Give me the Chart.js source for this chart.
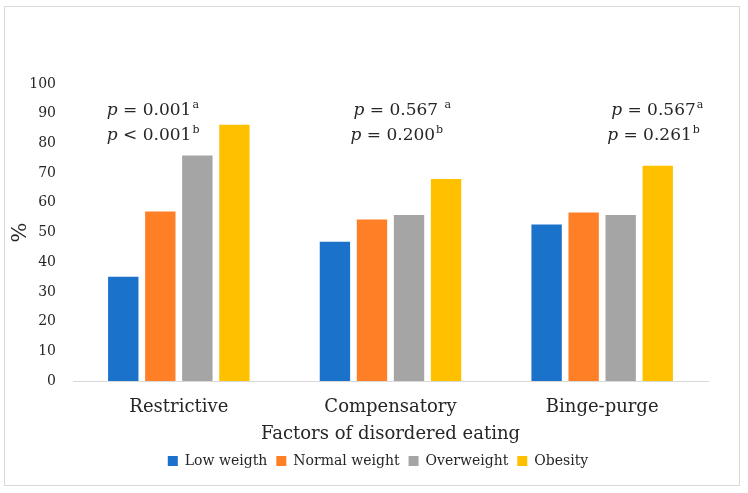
<!DOCTYPE html>
<html>
<head>
<meta charset="utf-8">
<script src="https://cdn.jsdelivr.net/npm/chart.js@4.4.1/dist/chart.umd.min.js"></script>
<style>
  html, body { margin: 0; padding: 0; background: #fff; }
  #wrap { width: 748px; height: 493px; position: relative; }
</style>
</head>
<body>
<div id="wrap"><canvas id="c" width="748" height="493"></canvas></div>
<script>
// ---- data ----
const categories = ['Restrictive', 'Compensatory', 'Binge-purge'];
const seriesNames = ['Low weigth', 'Normal weight', 'Overweight', 'Obesity'];
const lowWeight    = [35.1, 46.9, 52.7];
const normalWeight = [57.1, 54.4, 56.7];
const overweight   = [75.9, 55.9, 55.9];
const obesity      = [86.3, 68.0, 72.5];
const yTicks = [0, 10, 20, 30, 40, 50, 60, 70, 80, 90, 100];
// p-value annotations per category
const pOp1  = ['=', '=', '='];
const pVal1 = ['0.001', '0.567 ', '0.567'];
const pSup1 = ['a', 'a', 'a'];
const pOp2  = ['<', '=', '='];
const pVal2 = ['0.001', '0.200', '0.261'];
const pSup2 = ['b', 'b', 'b'];

const colors = ['#1a72cb', '#ff7f27', '#a5a5a5', '#ffc000'];
const FONT = "'DejaVu Serif', serif";
const TXT = '#262626';

const seriesData = [lowWeight, normalWeight, overweight, obesity];

const borderPlugin = {
  id: 'frame',
  beforeDraw(chart) {
    const ctx = chart.ctx;
    ctx.save();
    ctx.fillStyle = '#fff';
    ctx.fillRect(0, 0, chart.width, chart.height);
    ctx.strokeStyle = '#d9d9d9';
    ctx.lineWidth = 1;
    ctx.strokeRect(4.5, 6.5, 735, 479);
    ctx.restore();
  }
};

const legendShift = {
  id: 'legendShift',
  afterLayout(chart) {
    if (chart.legend) {
      chart.legend.left += 24;
      chart.legend.right += 24;
    }
  }
};

const annotPlugin = {
  id: 'pvals',
  afterDatasetsDraw(chart, args, opts) {
    const ctx = chart.ctx;
    const xs = chart.scales.x, ys = chart.scales.y;
    ctx.save();
    ctx.fillStyle = TXT;
    ctx.textBaseline = 'alphabetic';
    ctx.textAlign = 'left';
    const drawLine = (x, y, op, val, sup) => {
      ctx.font = "italic 17px " + FONT;
      ctx.fillText('p', x, y);
      x += ctx.measureText('p').width;
      ctx.font = "17px " + FONT;
      const t = ' ' + op + ' ' + val;
      ctx.fillText(t, x, y);
      x += ctx.measureText(t).width;
      ctx.font = "11px " + FONT;
      ctx.fillText(sup, x + 1, y - 7);
    };
    categories.forEach((c, i) => {
      const cx = xs.getPixelForValue(i);
      drawLine(cx + opts.dx1[i], ys.getPixelForValue(opts.y1), pOp1[i], pVal1[i], pSup1[i]);
      drawLine(cx + opts.dx2[i], ys.getPixelForValue(opts.y2), pOp2[i], pVal2[i], pSup2[i]);
    });
    ctx.restore();
  }
};

new Chart(document.getElementById('c'), {
  type: 'bar',
  data: {
    labels: categories,
    datasets: seriesNames.map((n, i) => ({
      label: n,
      data: seriesData[i],
      backgroundColor: colors[i],
      borderWidth: 0,
      barPercentage: 0.82,
      categoryPercentage: 0.70
    }))
  },
  options: {
    responsive: false,
    animation: false,
    layout: { padding: { left: 0, right: 40, top: 84, bottom: 15 } },
    plugins: {
      legend: {
        position: 'bottom',
        labels: {
          font: { family: FONT, size: 14 },
          color: TXT,
          boxWidth: 10,
          boxHeight: 10,
          padding: 9
        }
      },
      tooltip: { enabled: false },
      pvals: { dx1: [-72, -37, 9], dx2: [-72, -40, 5], y1: 89.4, y2: 81.3 }
    },
    scales: {
      x: {
        afterFit(s) { s.height = 64; },
        grid: { display: false, drawTicks: false },
        border: { display: true, color: '#d9d9d9' },
        ticks: { font: { family: FONT, size: 18 }, color: TXT, padding: 16 },
        title: { display: true, text: 'Factors of disordered eating', font: { family: FONT, size: 18 }, color: TXT, padding: { top: 0, bottom: 0 } }
      },
      y: {
        min: 0, max: 100,
        afterFit(s) { s.width = 73; },
        afterBuildTicks(s) { s.ticks = yTicks.map(v => ({ value: v })); },
        grid: { display: false, drawTicks: false },
        border: { display: false },
        ticks: { font: { family: FONT, size: 14 }, color: TXT, padding: 17 },
        title: { display: true, text: '%', font: { family: FONT, size: 21 }, color: TXT, padding: { top: 8, bottom: 0 } }
      }
    }
  },
  plugins: [borderPlugin, legendShift, annotPlugin]
});
</script>
</body>
</html>
